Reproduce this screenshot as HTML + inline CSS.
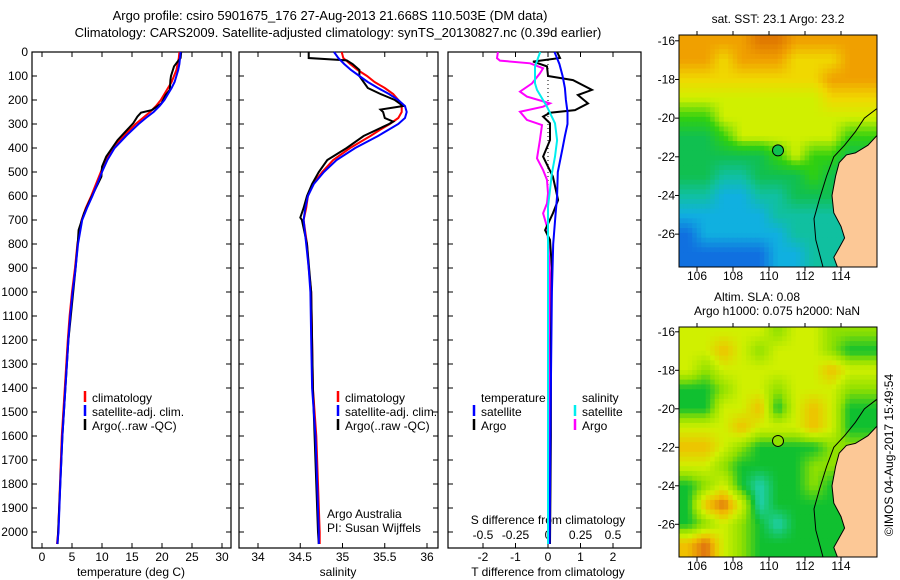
<!DOCTYPE html>
<html><head><meta charset="utf-8"><style>
body{margin:0;background:#fff;}
svg{display:block;font-family:"Liberation Sans",sans-serif;}
</style></head><body>
<svg id="c" width="900" height="580" xmlns="http://www.w3.org/2000/svg"></svg>
<script>
// ===== data =====
const tDepth=[0,25,50,75,100,125,150,175,200,225,250,275,300,350,400,450,500,550,600,650,700,800,900,1000,1100,1200,1400,1600,1800,2000,2050];
const tClim=[22.9,22.8,22.6,22.4,22.0,21.6,21.0,20.4,19.8,19.0,18.0,16.8,15.6,13.6,11.8,10.6,9.8,9.0,8.2,7.3,6.6,5.9,5.5,5.0,4.6,4.3,3.8,3.3,3.0,2.7,2.5];
const tSat=[23.1,23.0,22.9,22.7,22.4,22.1,21.6,21.0,20.4,19.6,18.6,17.3,16.1,14.0,12.1,10.9,10.0,9.2,8.4,7.5,6.7,6.0,5.6,5.1,4.7,4.4,3.9,3.4,3.05,2.75,2.55];
const aDepth=[0,25,40,60,100,117,158,179,214,242,253,269,297,367,436,478,519,617,672,742,783,900,1200,1600,2050];
const tArgo=[23.2,23.1,22.6,22.0,21.5,21.4,21.3,20.6,19.9,18.3,16.5,15.9,15.2,12.6,10.7,10.0,9.9,8.0,7.0,6.1,6.0,5.6,4.4,3.4,2.6];
const sDepth=[0,25,50,75,100,125,150,175,200,225,250,275,300,325,350,400,450,500,550,600,650,700,800,900,1000,1200,1400,1600,1800,2000,2050];
const sClim=[34.99,35.01,35.09,35.18,35.29,35.38,35.50,35.60,35.66,35.70,35.70,35.66,35.56,35.44,35.33,35.09,34.89,34.76,34.65,34.59,34.57,34.54,34.58,34.60,34.63,34.64,34.65,34.69,34.71,34.73,34.73];
const sSat=[34.9,34.95,35.02,35.1,35.2,35.3,35.42,35.55,35.66,35.74,35.76,35.74,35.66,35.54,35.42,35.15,34.93,34.78,34.66,34.59,34.56,34.54,34.57,34.6,34.62,34.63,34.64,34.68,34.7,34.72,34.72];
const saDepth=[0,25,35,50,75,100,125,150,175,200,225,240,250,275,290,300,325,350,400,450,500,550,600,650,690,700,800,1000,1400,2000,2050];
const sArgo=[34.6,34.6,35.05,35.12,35.2,35.2,35.25,35.3,35.45,35.62,35.72,35.45,35.48,35.5,35.6,35.55,35.4,35.25,35.05,34.82,34.72,34.64,34.58,34.54,34.5,34.52,34.58,34.63,34.65,34.71,34.72];
const dtSatDepth=[0,50,100,150,200,250,300,350,400,500,600,700,800,1000,1500,2050];
const dtSat=[0.2,0.35,0.45,0.52,0.55,0.6,0.6,0.52,0.45,0.3,0.28,0.22,0.16,0.12,0.08,0.05];
const dtArgo=[0.28,0.37,-0.46,-0.03,0,0.77,1.35,0.92,1.23,0.83,0.06,-0.15,0.06,0.06,-0.15,0,0.15,0.31,0.15,-0.09,0.06,0.12,0.09,0.09,0.06];
const dsSatDepth=[0,61,131,158,228,297,367,436,506,575,644,800,2050];
const dsSat=[-0.06,-0.1,-0.1,-0.085,-0.008,0.054,0.07,0.054,0.03,0.015,0,0,0];
const dsArgoDepth=[0,26,36,47,68,89,131,165,186,214,228,249,283,304,367,443,492,533,589,631,672,728,783,922,2050];
const dsArgo=[-0.385,-0.392,-0.369,-0.138,-0.038,-0.062,-0.123,-0.215,-0.162,0.015,-0.038,-0.215,-0.162,-0.046,-0.062,-0.085,-0.038,-0.008,0,-0.008,-0.038,-0.008,0,0.015,0.01];
const depthTicks=[0,100,200,300,400,500,600,700,800,900,1000,1100,1200,1300,1400,1500,1600,1700,1800,1900,2000];
const tTicks=[0,5,10,15,20,25,30];
const sTicks=[34,34.5,35,35.5,36];
const dtTicks=[-2,-1,0,1,2];
const dsTicks=[-0.5,-0.25,0,0.25,0.5];
const lonTicks=[106,108,110,112,114];
const latTicks=[-16,-18,-20,-22,-24,-26];
// SST grid (colour level 0..8), rows lat -16..-27, cols lon 105..115
const sstGrid=[
[7,7,7,7,8,8,7,7,7,7,7],
[7,7,6,7,7,7,6,6,6,7,7],
[6,6,6,6,6,6,6,6,7,7,7],
[5,5,5,5,5,5,5,5,6,6,6],
[4,4,5,5,5,5,5,5,5,5,5],
[3,3,4,5,5,5,5,5,5,4,4],
[3,3,3,3,3,4,5,4,4,3,3],
[3,3,2,2,3,3,3,4,3,3,3],
[2,2,1,1,2,2,3,3,3,3,3],
[1,1,1,1,1,2,2,2,2,2,2],
[0,1,1,1,1,1,2,2,2,2,2],
[0,0,0,0,0,1,1,2,2,2,2]];
// SLA grid (level -2..3)
const slaGrid=[
[1,1,1,1,1,0,1,1,0,0,0],
[1,1,2,1,0,1,1,1,0,-1,-1],
[1,0,1,1,1,1,1,1,2,1,1],
[-1,-1,0,1,1,0,1,1,1,0,0],
[-1,-1,1,1,2,-1,1,2,1,-1,-1],
[1,1,1,2,1,1,1,2,1,-1,-1],
[2,2,1,0,-1,-1,-1,-1,0,0,0],
[1,1,0,-1,-1,-1,-1,0,0,0,0],
[-1,0,1,-1,-2,-1,-1,0,-1,-1,-1],
[-1,2,3,1,-2,-1,-1,-1,-1,-1,-1],
[-1,0,1,0,-1,-2,-1,-1,-1,-1,-1],
[2,3,1,0,-1,-1,-1,-1,-1,-1,-1]];
const coast=[[116,-20.9],[115.5,-21.4],[114.8,-21.8],[114.3,-21.9],[113.9,-22.3],[113.7,-23.0],[113.5,-24.0],[113.6,-24.9],[114.0,-25.6],[114.2,-26.2],[113.9,-26.7],[113.6,-27.2],[113.8,-27.7],[116,-27.7]];
const isobath=[[116,-19.5],[115.3,-20.0],[114.8,-20.7],[114.2,-21.4],[113.6,-22.0],[113.2,-23.0],[112.8,-24.2],[112.5,-25.2],[112.6,-26.3],[113.0,-27.7]];

// ===== helpers =====
const svg=document.getElementById('c');
const NS='http://www.w3.org/2000/svg';
function el(tag,attrs,parent){const e=document.createElementNS(NS,tag);for(const k in attrs)e.setAttribute(k,attrs[k]);(parent||svg).appendChild(e);return e;}
function txt(x,y,s,anchor,size,parent){const t=el('text',{x:x,y:y,'font-size':size||12,'text-anchor':anchor||'middle',fill:'#000'},parent);t.textContent=s;return t;}
const yD=d=>52+0.24*d;
const xT=v=>42+6*v;
const xS=v=>258+84.5*(v-34);
const xDT=v=>548+32.5*v;
const xDS=v=>548+130*v;
function line(xs,ds,fx,color,name,w){
  let p='';for(let i=0;i<xs.length;i++)p+=(i?'L':'M')+fx(xs[i]).toFixed(1)+','+yD(ds[i]).toFixed(1);
  const e=el('path',{d:p,fill:'none',stroke:color,'stroke-width':w||2});
  
  
}
function panel(x0,x1,name){
  const g=el('g',{});
  
  
  el('rect',{x:x0,y:52,width:x1-x0,height:496,fill:'none',stroke:'#000','stroke-width':1.2},g);
  depthTicks.forEach(d=>{el('line',{x1:x0,x2:x0+5,y1:yD(d),y2:yD(d),stroke:'#000'},g);el('line',{x1:x1,x2:x1-5,y1:yD(d),y2:yD(d),stroke:'#000'},g);});
  return g;
}
function xticks(g,ticks,fx,labY){
  ticks.forEach(v=>{const x=fx(v);el('line',{x1:x,x2:x,y1:548,y2:543,stroke:'#000'},g);el('line',{x1:x,x2:x,y1:52,y2:57,stroke:'#000'},g);
  if(labY)txt(x,labY,String(v),'middle',12,g);});
}
function legend(x,y,color,label,name){
  const g=el('g',{});
  
  
  el('line',{x1:x,x2:x,y1:y-11,y2:y,stroke:color,'stroke-width':2.5},g);
  txt(x+7,y,label,'start',12,g);
}

txt(330,20,'Argo profile: csiro 5901675_176 27-Aug-2013 21.668S 110.503E (DM data)','middle',13);
txt(338,37,'Climatology: CARS2009. Satellite-adjusted climatology: synTS_20130827.nc (0.39d earlier)','middle',13);

const p1=panel(32,231,'temperature-panel');
depthTicks.forEach(d=>txt(28,yD(d)+4,String(d),'end',12,p1));
xticks(p1,tTicks,xT,561);
txt(131,576,'temperature (deg C)','middle',12,p1);
line(tClim,tDepth,xT,'#f00','temp-climatology-line');
line(tArgo,aDepth,xT,'#000','temp-argo-line');
line(tSat,tDepth,xT,'#00f','temp-satellite-line');
legend(85,402,'#f00','climatology','legend-climatology');
legend(85,416,'#00f','satellite-adj. clim.','legend-satellite');
legend(85,430,'#000','Argo(..raw -QC)','legend-argo');

const p2=panel(239,438,'salinity-panel');
xticks(p2,sTicks,xS,561);
txt(338,576,'salinity','middle',12,p2);
line(sClim,sDepth,xS,'#f00','sal-climatology-line');
line(sArgo,saDepth,xS,'#000','sal-argo-line');
line(sSat,sDepth,xS,'#00f','sal-satellite-line');
legend(338,402,'#f00','climatology','legend-climatology-2');
legend(338,416,'#00f','satellite-adj. clim.','legend-satellite-2');
legend(338,430,'#000','Argo(..raw -QC)','legend-argo-2');
txt(327,518,'Argo Australia','start',12,p2);
txt(327,532,'PI: Susan Wijffels','start',12,p2);

const p3=panel(448,641,'difference-panel');
xticks(p3,dtTicks,xDT,561);
dsTicks.forEach(v=>txt(xDS(v),539,String(v),'middle',12,p3));
txt(548,524,'S difference from climatology','middle',12,p3);
txt(548,576,'T difference from climatology','middle',12,p3);
el('line',{x1:548,x2:548,y1:52,y2:yD(650),stroke:'#000','stroke-dasharray':'1,3'},p3);
line(dsArgo,dsArgoDepth,xDS,'#f0f','sdiff-argo-line');
line(dtArgo,aDepth,xDT,'#000','tdiff-argo-line');
line(dtSat,dtSatDepth,xDT,'#00f','tdiff-satellite-line');
line(dsSat,dsSatDepth,xDS,'#0ee','sdiff-satellite-line');
txt(481,402,'temperature','start',12,p3);
txt(582,402,'salinity','start',12,p3);
legend(474,416,'#00f','satellite','legend-t-satellite');
legend(474,430,'#000','Argo','legend-t-argo');
legend(575,416,'#0ee','satellite','legend-s-satellite');
legend(575,430,'#f0f','Argo','legend-s-argo');

// colour maps (continuous)
const sstColors=['#1070e0','#10b0e0','#10c0a0','#10c050','#30d010','#d0f000','#f0d800','#f0a000','#e07800'];
const slaColors=['#20d0b0','#10c030','#90e000','#d0f000','#f0c000','#e07010'];
function hex(h){return [1,3,5].map(i=>parseInt(h.substr(i,2),16));}
function cmap(cols,v){v=Math.max(0,Math.min(cols.length-1,v));const i=Math.min(cols.length-2,Math.floor(v)),f=v-i;const a=hex(cols[i]),b=hex(cols[i+1]);
  return 'rgb('+a.map((x,k)=>Math.round(x+(b[k]-x)*f)).join(',')+')';}
function sample(grid,lat,lon){
  const rf=Math.max(0,Math.min(grid.length-1,-16-lat)), cf=Math.max(0,Math.min(grid[0].length-1,lon-105.5));
  const r0=Math.min(grid.length-2,Math.floor(rf)),c0=Math.min(grid[0].length-2,Math.floor(cf));const fr=rf-r0,fc=cf-c0;
  return grid[r0][c0]*(1-fr)*(1-fc)+grid[r0][c0+1]*(1-fr)*fc+grid[r0+1][c0]*fr*(1-fc)+grid[r0+1][c0+1]*fr*fc;
}
function map(top,bottom,latTop,grid,colorOf,name,circleFill){
  const g=el('g',{});
  
  
  const latBot=-27.7,lonL=105,lonR=116,x0=679,x1=877;
  const mx=lon=>x0+(lon-lonL)*(x1-x0)/(lonR-lonL);
  const my=lat=>top+(latTop-lat)*(bottom-top)/(latTop-latBot);
  const cp='clip'+name;
  const cl=el('clipPath',{id:cp},g);el('rect',{x:x0,y:top,width:x1-x0,height:bottom-top},cl);
  const gg=el('g',{'clip-path':'url(#'+cp+')'},g);
  const step=0.25;
  for(let la=latTop;la>latBot-step;la-=step){
    for(let lo=lonL;lo<lonR;lo+=step){
      const v=sample(grid,la-step/2,lo+step/2);
      const cell=el('rect',{x:mx(lo)-0.3,y:my(la)-0.3,width:mx(lo+step)-mx(lo)+0.6,height:my(la-step)-my(la)+0.6,fill:colorOf(v)},gg);
      
    }
  }
  el('path',{d:'M'+coast.map(p=>mx(p[0]).toFixed(1)+','+my(p[1]).toFixed(1)).join('L')+'Z',fill:'#fcc896',stroke:'#000','stroke-width':1},gg);
  el('path',{d:'M'+isobath.map(p=>mx(p[0]).toFixed(1)+','+my(p[1]).toFixed(1)).join('L'),fill:'none',stroke:'#000','stroke-width':1},gg);
  el('rect',{x:x0,y:top,width:x1-x0,height:bottom-top,fill:'none',stroke:'#000'},g);
  latTicks.forEach(la=>{el('line',{x1:x0-4,x2:x0,y1:my(la),y2:my(la),stroke:'#000'},g);txt(x0-4,my(la)+4,String(la),'end',12,g);});
  lonTicks.forEach(lo=>{el('line',{x1:mx(lo),x2:mx(lo),y1:top-4,y2:top,stroke:'#000'},g);el('line',{x1:mx(lo),x2:mx(lo),y1:bottom,y2:bottom+4,stroke:'#000'},g);txt(mx(lo),bottom+13,String(lo),'middle',12,g);});
  const ci=el('circle',{cx:mx(110.5),cy:my(-21.67),r:5.5,fill:circleFill,stroke:'#000','stroke-width':1},g);
  
  
}
map(35,267,-15.7,sstGrid,v=>cmap(sstColors,v),'sst-map','#10c050');
map(327,557,-15.75,slaGrid,v=>cmap(slaColors,v+2),'sla-map','#90e000');
txt(778,23,'sat. SST: 23.1 Argo: 23.2','middle',12);
txt(757,301,'Altim. SLA: 0.08','middle',12);
txt(777,315,'Argo h1000: 0.075 h2000: NaN','middle',12);
const cr=txt(0,0,'©IMOS 04-Aug-2017 15:49:54','middle',12);
cr.setAttribute('transform','translate(893,455) rotate(-90)');

</script>
</body></html>
